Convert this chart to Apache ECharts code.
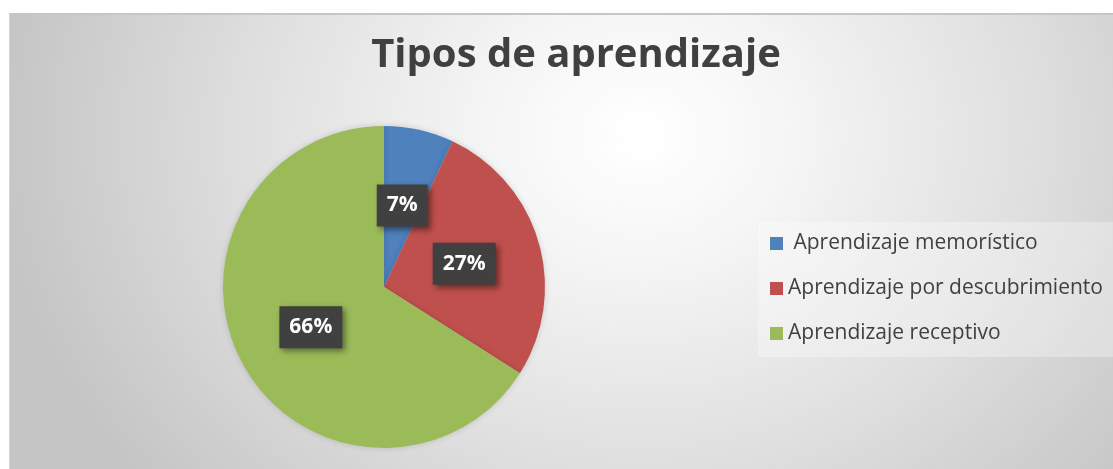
<!DOCTYPE html>
<html>
<head>
<meta charset="utf-8">
<script src="https://cdn.jsdelivr.net/npm/echarts@6/dist/echarts.min.js"></script>
<style>
  html, body { margin: 0; padding: 0; background: #ffffff; }
  #frame {
    position: absolute; left: 9px; top: 13px; width: 1104px; height: 456px;
    border-top: 2px solid #c6c6c6; border-left: 1px solid #d6d6d6;
    background: radial-gradient(ellipse 640px 540px at 630px 120px, #ffffff 0%, #f6f6f6 22%, #e0e0e0 60%, #c5c5c5 100%);
  }
  #chart { position: absolute; left: 0; top: 0; width: 1113px; height: 469px; }
</style>
</head>
<body>
<div id="frame"></div>
<div id="chart"></div>
<script>
const titleText = 'Tipos de aprendizaje';
const categories = ['Aprendizaje memorístico', 'Aprendizaje por descubrimiento', 'Aprendizaje receptivo'];
const values = [7, 27, 66];
const colors = ['#4f81bd', '#c0504d', '#9bbb59'];

const chart = echarts.init(document.getElementById('chart'), null, { renderer: 'canvas' });
chart.setOption({
  backgroundColor: 'transparent',
  animation: false,
  title: {
    text: titleText,
    left: 571, top: 31, textAlign: 'center',
    textStyle: { fontFamily: 'Open Sans', fontWeight: 'bold', fontSize: 40, color: '#404040' }
  },
  legend: {
    orient: 'vertical',
    left: 758, top: 222,
    padding: [11, 30, 13, 12],
    backgroundColor: 'rgba(255,255,255,0.3)',
    itemWidth: 13, itemHeight: 13, itemGap: 24,
    icon: 'rect',
    formatter: function (name) { return name === categories[0] ? ' ' + name : name; },
    textStyle: { fontFamily: 'Open Sans', fontSize: 21, lineHeight: 21, color: '#404040' },
    data: categories
  },
  series: [{
    type: 'pie',
    center: [384, 287],
    radius: 161,
    startAngle: 90,
    clockwise: true,
    silent: true,
    itemStyle: { borderWidth: 0, shadowBlur: 6, shadowColor: 'rgba(0,0,0,0.15)' },
    label: {
      show: true,
      position: 'inside',
      formatter: '{d}%',
      fontFamily: 'Open Sans', fontWeight: 'bold', fontSize: 21, lineHeight: 22,
      color: '#ffffff',
      backgroundColor: '#404040',
      padding: [10, 10],
      shadowColor: 'rgba(0,0,0,0.45)', shadowBlur: 6, shadowOffsetX: 3, shadowOffsetY: 3
    },
    labelLine: { show: false },
    data: categories.map((c, i) => ({ name: c, value: values[i], itemStyle: { color: colors[i] } }))
  }]
});
</script>
</body>
</html>
